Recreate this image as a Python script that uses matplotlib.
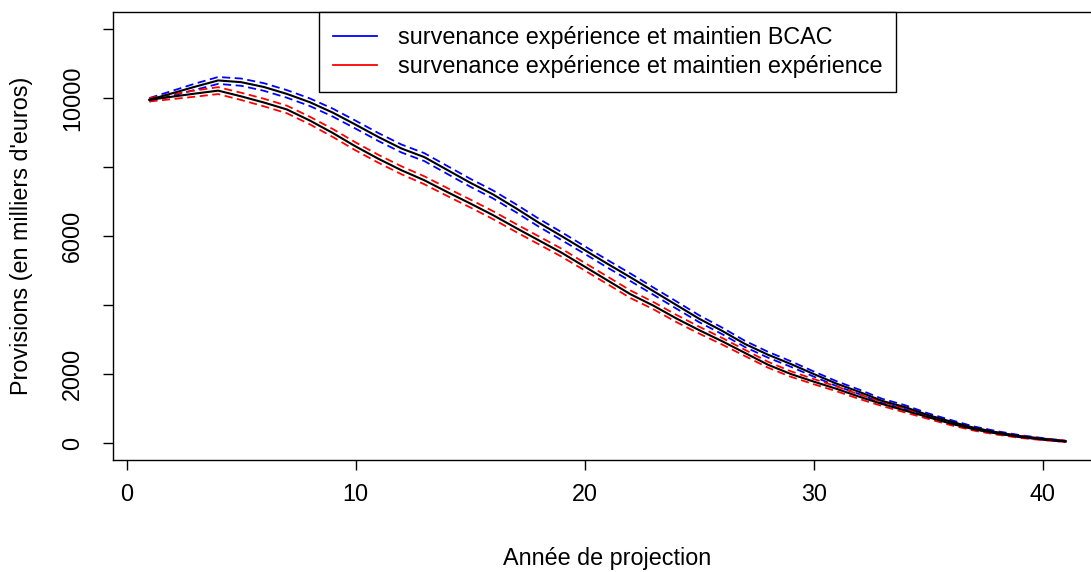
import matplotlib
matplotlib.use("Agg")
import matplotlib.pyplot as plt

plt.rcParams['font.family'] = ['Liberation Sans', 'DejaVu Sans']

# Projection years
years = list(range(1, 42))

# Survenance expérience, maintien BCAC: central path and dashed envelope
bcac_central = [9950, 10140, 10330, 10510, 10460, 10320, 10120, 9880, 9580, 9230,
                8870, 8540, 8290, 7920, 7550, 7210, 6810, 6390, 6000, 5600,
                5200, 4810, 4410, 4010, 3610, 3260, 2880, 2570, 2300, 2010,
                1730, 1490, 1230, 1050, 820, 630, 450, 320, 210, 130, 60]
bcac_high = [10000, 10210, 10420, 10610, 10565, 10430, 10230, 9990, 9695, 9345,
             8985, 8655, 8405, 8035, 7665, 7325, 6925, 6505, 6115, 5710,
             5310, 4920, 4515, 4115, 3710, 3355, 2970, 2655, 2380, 2085,
             1800, 1555, 1290, 1105, 870, 675, 490, 355, 240, 155, 80]
bcac_low = [9900, 10070, 10240, 10410, 10355, 10210, 10010, 9770, 9465, 9115,
            8755, 8425, 8175, 7805, 7435, 7095, 6695, 6275, 5885, 5490,
            5090, 4700, 4305, 3905, 3510, 3165, 2790, 2485, 2220, 1935,
            1660, 1425, 1170, 995, 770, 585, 410, 285, 180, 105, 40]

# Survenance expérience, maintien expérience: central path and dashed envelope
exp_central = [9950, 10040, 10130, 10215, 10050, 9870, 9670, 9350, 8990, 8600,
               8240, 7910, 7620, 7280, 6950, 6610, 6240, 5880, 5520, 5120,
               4720, 4320, 3990, 3620, 3280, 2960, 2620, 2280, 2010, 1790,
               1580, 1350, 1140, 950, 760, 570, 410, 290, 190, 120, 60]
exp_high = [10000, 10110, 10220, 10315, 10155, 9980, 9780, 9460, 9105, 8715,
            8355, 8025, 7735, 7395, 7065, 6725, 6355, 5995, 5635, 5230,
            4830, 4430, 4095, 3725, 3380, 3055, 2710, 2365, 2090, 1865,
            1650, 1415, 1200, 1005, 810, 615, 450, 325, 220, 145, 80]
exp_low = [9900, 9970, 10040, 10115, 9945, 9760, 9560, 9240, 8875, 8485,
           8125, 7795, 7505, 7165, 6835, 6495, 6125, 5765, 5405, 5010,
           4610, 4210, 3885, 3515, 3180, 2865, 2530, 2195, 1930, 1715,
           1510, 1285, 1080, 895, 710, 525, 370, 255, 160, 95, 40]

x_ticks = [0, 10, 20, 30, 40]
y_ticks = [0, 2000, 4000, 6000, 8000, 10000, 12000]
y_tick_labels = ["0", "2000", "", "6000", "", "10000", ""]
legend_labels = ["survenance expérience et maintien BCAC",
                 "survenance expérience et maintien expérience"]
x_title = "Année de projection"
y_title = "Provisions (en milliers d'euros)"

FS = 16.8
W, H = 1091, 572

fig = plt.figure(figsize=(W / 100, H / 100), dpi=100)
fig.patch.set_facecolor("white")

# plot region (extends past the right edge of the canvas)
left_px, right_px, top_px, bottom_px = 112.8, 1102.3, 12.4, 460.0
ax = fig.add_axes([left_px / W, 1 - bottom_px / H,
                   (right_px - left_px) / W, (bottom_px - top_px) / H])
ax.set_xlim(-0.6, 42.6)
ax.set_ylim(-480, 12480)

dash = (0, (4.5, 2.5))
ax.plot(years, bcac_high, color="#0000ff", lw=1.3, linestyle=dash)
ax.plot(years, bcac_low, color="#0000ff", lw=1.3, linestyle=dash)
ax.plot(years, exp_high, color="#ff0000", lw=1.3, linestyle=dash)
ax.plot(years, exp_low, color="#ff0000", lw=1.3, linestyle=dash)
ax.plot(years, bcac_central, color="black", lw=1.5)
ax.plot(years, exp_central, color="black", lw=1.5)

ax.set_xticks(x_ticks)
ax.set_xticklabels([str(t) for t in x_ticks])
ax.set_yticks(y_ticks)
ax.set_yticklabels(y_tick_labels, rotation=90, va="center")

for sp in ax.spines.values():
    sp.set_linewidth(1.0)
    sp.set_color("black")

ax.tick_params(axis="both", direction="out", length=7.5, width=1.0,
               labelsize=FS, colors="black")
ax.tick_params(axis="x", pad=9)
ax.tick_params(axis="y", pad=13)

fig.text(((left_px + right_px) / 2) / W, 1 - 558 / H, x_title,
         ha="center", va="center", fontsize=FS)
fig.text(22 / W, 1 - ((top_px + bottom_px) / 2) / H, y_title,
         ha="center", va="center", rotation=90, fontsize=FS)

handles = [plt.Line2D([], [], color="#0000ff", lw=1.3),
           plt.Line2D([], [], color="#ff0000", lw=1.3)]
leg = ax.legend(handles, legend_labels, loc="upper center",
                bbox_to_anchor=(0.5, 1.0), borderaxespad=0, fontsize=FS,
                frameon=True, fancybox=False, framealpha=1,
                edgecolor="black", borderpad=0.6, labelspacing=0.25,
                handlelength=1.9, handletextpad=0.9)
leg.get_frame().set_linewidth(1.0)

fig.savefig("out.png", dpi=100, facecolor="white")
